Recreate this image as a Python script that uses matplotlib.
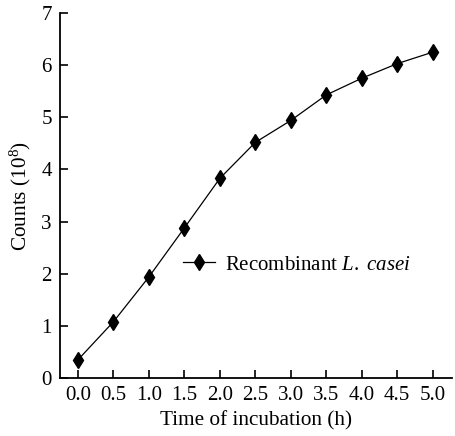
import matplotlib
matplotlib.use("Agg")
import matplotlib.pyplot as plt

# incubation time (h) and cell counts (10^8)
time_h = [0.0, 0.5, 1.0, 1.5, 2.0, 2.5, 3.0, 3.5, 4.0, 4.5, 5.0]
counts = [0.35, 1.08, 1.94, 2.88, 3.83, 4.52, 4.94, 5.43, 5.75, 6.03, 6.25]
x_ticks = [0.0, 0.5, 1.0, 1.5, 2.0, 2.5, 3.0, 3.5, 4.0, 4.5, 5.0]
x_labels = ["0.0", "0.5", "1.0", "1.5", "2.0", "2.5", "3.0", "3.5", "4.0", "4.5", "5.0"]
y_ticks = [0, 1, 2, 3, 4, 5, 6, 7]

plt.rcParams["font.family"] = ["Liberation Serif", "DejaVu Serif"]
plt.rcParams["mathtext.fontset"] = "custom"
plt.rcParams["mathtext.rm"] = "Liberation Serif"
plt.rcParams["mathtext.it"] = "Liberation Serif:italic"


def main() -> None:
    fig = plt.figure(figsize=(4.55, 4.36), dpi=100)
    ax = fig.add_axes([0.132, 0.133, 0.861, 0.837])

    ax.plot(time_h, counts, color="black", linewidth=0.9, marker="d",
            markersize=8, markerfacecolor="black", markeredgecolor="black",
            label=r"Recombinant $\mathit{L.\ casei}$")

    ax.set_xlim(-0.253, 5.27)
    ax.set_ylim(0, 7)
    ax.set_xticks(x_ticks)
    ax.set_xticklabels(x_labels)
    ax.set_yticks(y_ticks)

    for side in ("top", "right"):
        ax.spines[side].set_visible(False)
    for side in ("left", "bottom"):
        ax.spines[side].set_linewidth(1.3)

    ax.tick_params(direction="in", length=6, width=1.2, labelsize=15, pad=6)
    ax.set_xlabel("Time of incubation (h)", fontsize=15.3, labelpad=4)
    ax.set_ylabel(r"Counts (10$^{8}$)", fontsize=15.3, labelpad=6)

    ax.legend(loc="center left", bbox_to_anchor=(0.315, 0.31), frameon=False,
              fontsize=15, handlelength=1.5, handletextpad=0.5,
              borderaxespad=0, borderpad=0)

    fig.savefig("out.png", dpi=100)
    plt.close(fig)


if __name__ == "__main__":
    main()
